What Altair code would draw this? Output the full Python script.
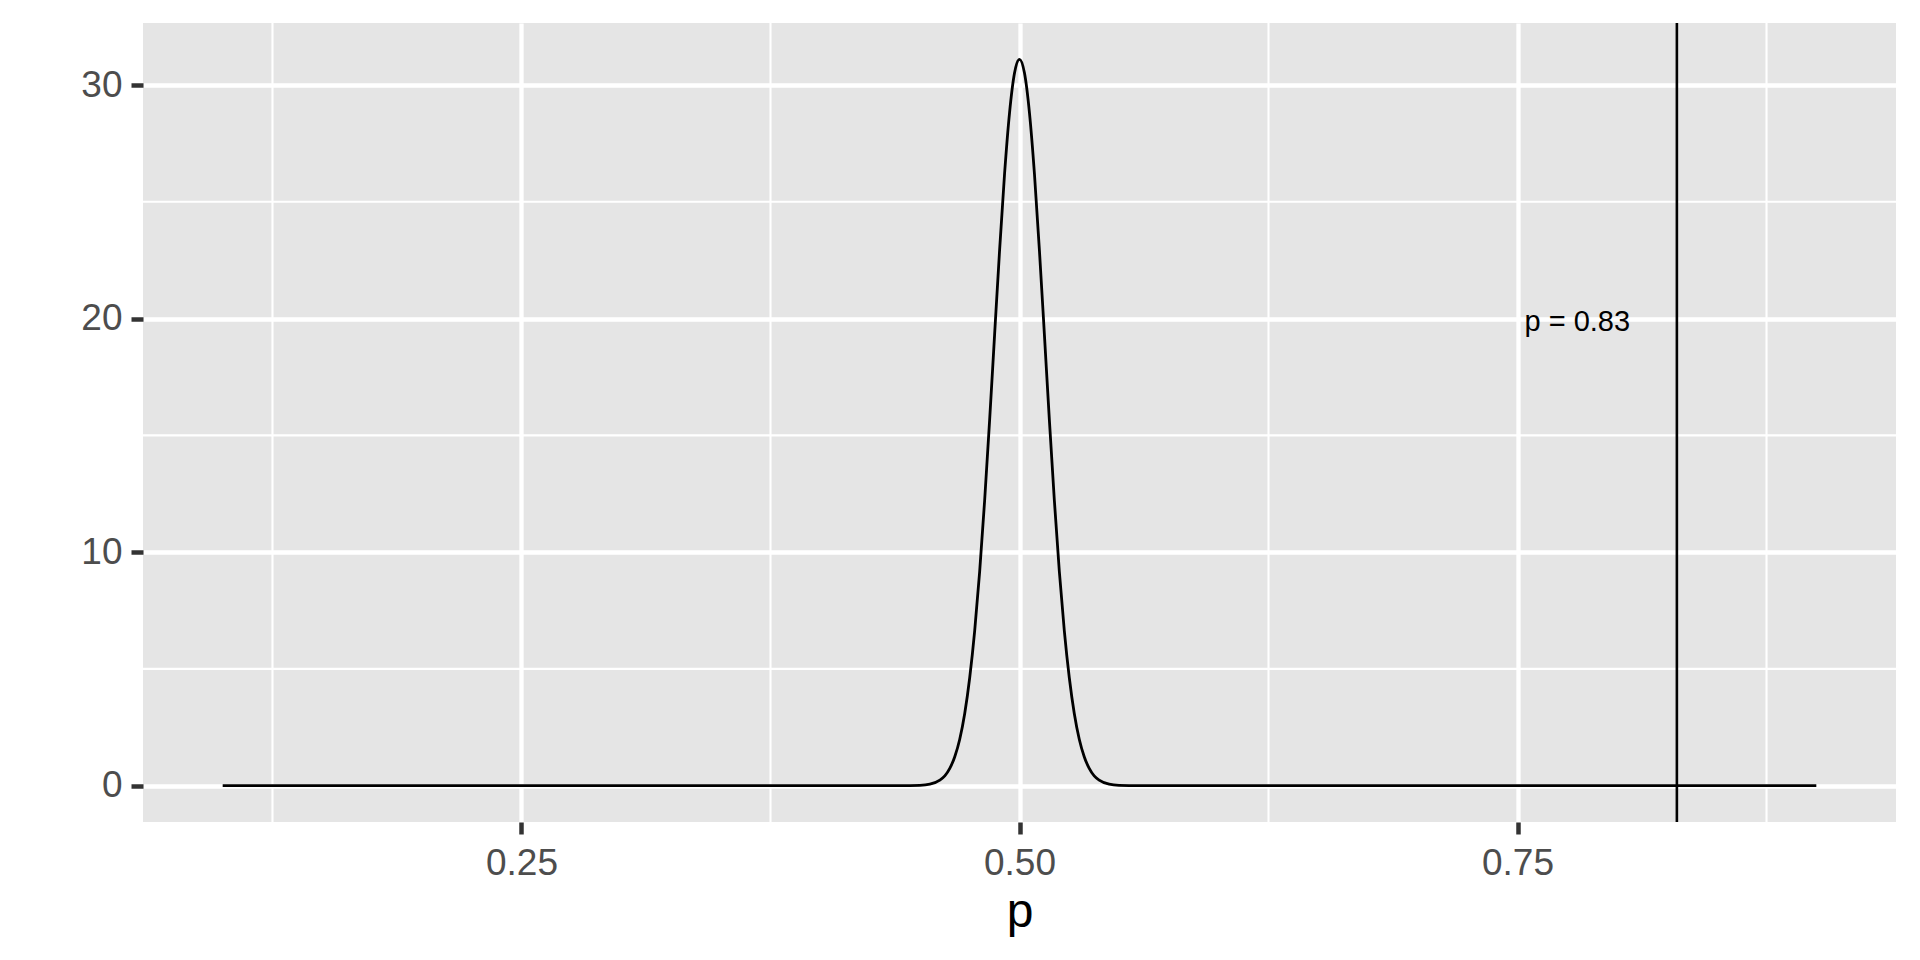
import altair as alt
import pandas as pd

# Curve (p, density)
p_vals = [0.10, 0.44, 0.45, 0.455, 0.46, 0.4625, 0.465, 0.4675, 0.47, 0.4725,
          0.475, 0.4775, 0.48, 0.4825, 0.485, 0.4875, 0.49, 0.4925, 0.495, 0.4975,
          0.50,
          0.5025, 0.505, 0.5075, 0.51, 0.5125, 0.515, 0.5175, 0.52, 0.5225, 0.525,
          0.5275, 0.53, 0.5325, 0.535, 0.5375, 0.54, 0.545, 0.55, 0.56, 0.90]
density = [0.0, 0.0, 0.015, 0.064, 0.24, 0.42, 0.74, 1.24, 1.99, 3.09,
           4.62, 6.63, 9.17, 12.21, 15.65, 19.31, 22.92, 26.20, 28.81, 30.51,
           31.10,
           30.51, 28.81, 26.20, 22.92, 19.31, 15.65, 12.21, 9.17, 6.63, 4.62,
           3.09, 1.99, 1.24, 0.74, 0.42, 0.24, 0.064, 0.015, 0.0, 0.0]

x_ticks = [0.25, 0.50, 0.75]
y_ticks = [0, 10, 20, 30]
x_minor = [0.125, 0.375, 0.625, 0.875]
y_minor = [5, 15, 25]
vline_p = [0.83]
label_text = ["p = 0.83"]
label_x = [0.78]
label_y = [20]

curve_df = pd.DataFrame({"p": p_vals, "density": density})
xminor_df = pd.DataFrame({"p": x_minor})
yminor_df = pd.DataFrame({"density": y_minor})
vline_df = pd.DataFrame({"p": vline_p})
label_df = pd.DataFrame({"p": label_x, "density": label_y, "text": label_text})

FONT = "Liberation Sans"

x_scale = alt.Scale(domain=[0.06, 0.94], nice=False, zero=False)
y_scale = alt.Scale(domain=[-1.555, 32.655], nice=False, zero=False)

x_axis = alt.Axis(values=x_ticks, format=".2f", title="p", grid=True)
y_axis = alt.Axis(values=y_ticks, format="d", title=None, grid=True)

base_curve = alt.Chart(curve_df).mark_line(
    color="black", strokeWidth=2.8, interpolate="monotone"
).encode(
    x=alt.X("p:Q", scale=x_scale, axis=x_axis),
    y=alt.Y("density:Q", scale=y_scale, axis=y_axis),
)

xminor = alt.Chart(xminor_df).mark_rule(color="white", strokeWidth=2.1).encode(
    x=alt.X("p:Q", scale=x_scale)
)
yminor = alt.Chart(yminor_df).mark_rule(color="white", strokeWidth=2.1).encode(
    y=alt.Y("density:Q", scale=y_scale)
)
vline = alt.Chart(vline_df).mark_rule(color="black", strokeWidth=2.6).encode(
    x=alt.X("p:Q", scale=x_scale)
)
label = alt.Chart(label_df).mark_text(
    font=FONT, fontSize=29, color="black", align="center", baseline="middle", dy=3
).encode(
    x=alt.X("p:Q", scale=x_scale),
    y=alt.Y("density:Q", scale=y_scale),
    text="text:N",
)

chart = alt.layer(xminor, yminor, base_curve, vline, label).properties(
    width=1753,
    height=799,
    padding={"left": 135, "top": 15, "right": 16, "bottom": 130},
    autosize=alt.AutoSizeParams(type="none"),
    background="white",
).configure_view(
    fill="#E5E5E5", strokeWidth=0
).configure_axis(
    domain=False,
    gridColor="white",
    gridWidth=4.3,
    tickColor="#333333",
    tickWidth=4.5,
    tickSize=12,
    labelColor="#4D4D4D",
    labelFont=FONT,
    labelFontSize=37,
    titleFont=FONT,
    titleFontSize=48,
    titleColor="black",
    titleFontWeight="normal",
).configure_axisX(
    labelPadding=11,
    titlePadding=7,
).configure_axisY(
    labelPadding=9,
)

chart.save("out.html", embed_options={"renderer": "svg", "actions": False})
